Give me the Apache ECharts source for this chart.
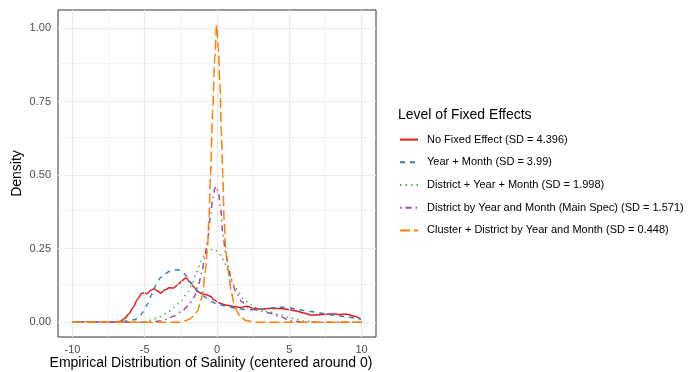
<!DOCTYPE html>
<html>
<head>
<meta charset="utf-8">
<script src="https://cdn.jsdelivr.net/npm/echarts@6/dist/echarts.min.js"></script>
<style>
html,body{margin:0;padding:0;background:#fff;}
#chart{width:696px;height:372px;}
</style>
</head>
<body>
<div id="chart"></div>
<script>
// ---- data ----
var seriesNames = [
  'No Fixed Effect (SD = 4.396)',
  'Year + Month (SD = 3.99)',
  'District + Year + Month (SD = 1.998)',
  'District by Year and Month (Main Spec) (SD = 1.571)',
  'Cluster + District by Year and Month (SD = 0.448)'
];
var noFeX = [-10,-7,-6.7,-6.4,-6.1,-5.8,-5.5,-5.2,-5.0,-4.85,-4.6,-4.35,-4.1,-3.9,-3.6,-3.3,-3.0,-2.7,-2.4,-2.15,-1.9,-1.6,-1.35,-1.1,-0.8,-0.45,-0.2,0.2,0.6,0.95,1.3,1.65,2.0,2.2,2.5,3.0,3.5,4.0,4.4,4.9,5.5,6.0,6.5,7.0,7.5,8.0,8.5,9.0,9.5,10];
var noFeY = [0,0,0.002,0.012,0.028,0.05,0.078,0.098,0.1,0.096,0.108,0.114,0.105,0.099,0.11,0.117,0.116,0.128,0.142,0.151,0.138,0.12,0.104,0.098,0.094,0.088,0.075,0.064,0.058,0.055,0.052,0.05,0.054,0.052,0.047,0.044,0.046,0.046,0.046,0.043,0.038,0.031,0.024,0.025,0.027,0.028,0.026,0.027,0.02,0.008];
var ymX = [-10,-7,-6.5,-6.2,-6.0,-5.7,-5.4,-5.1,-4.8,-4.5,-4.2,-3.9,-3.6,-3.3,-3.0,-2.7,-2.4,-2.1,-1.8,-1.5,-1.2,-0.9,-0.6,-0.3,0,0.4,0.9,1.4,2.0,2.5,3.0,3.5,4.0,4.5,5.0,5.5,6.0,6.5,7.0,7.5,8.0,8.5,9.0,9.5,10];
var ymY = [0,0,0.002,0.005,0.006,0.008,0.017,0.035,0.062,0.095,0.128,0.152,0.165,0.172,0.176,0.178,0.172,0.156,0.134,0.113,0.1,0.088,0.076,0.068,0.062,0.057,0.051,0.047,0.043,0.042,0.043,0.046,0.05,0.051,0.049,0.044,0.04,0.036,0.032,0.028,0.024,0.021,0.017,0.014,0.009];
var dymX = [-10,-5.5,-5.0,-4.5,-4.0,-3.5,-3.0,-2.5,-2.0,-1.7,-1.4,-1.1,-0.8,-0.5,-0.3,-0.1,0.1,0.3,0.5,0.7,0.9,1.2,1.5,1.85,2.3,2.8,3.5,4.4,5.0,5.5,6.0,6.5,7,10];
var dymY = [0,0,0.003,0.008,0.017,0.03,0.05,0.072,0.104,0.135,0.172,0.208,0.235,0.245,0.248,0.244,0.238,0.226,0.205,0.18,0.155,0.125,0.1,0.078,0.06,0.048,0.036,0.025,0.016,0.009,0.004,0.002,0,0];
var mainX = [-10,-4.5,-4.0,-3.5,-3.0,-2.5,-2.0,-1.6,-1.3,-1.05,-0.85,-0.65,-0.45,-0.3,-0.15,-0.05,0.1,0.25,0.4,0.6,0.8,1.0,1.3,1.7,2.2,3.0,3.7,4.4,5.0,5.5,6.0,10];
var mainY = [0,0,0.004,0.01,0.02,0.035,0.055,0.085,0.125,0.168,0.22,0.28,0.36,0.42,0.455,0.462,0.44,0.385,0.3,0.235,0.185,0.14,0.105,0.07,0.048,0.038,0.03,0.019,0.006,0.002,0,0];
var clusterX = [-10,-2.6,-2.2,-1.9,-1.6,-1.35,-1.15,-1.0,-0.8,-0.65,-0.55,-0.45,-0.3,-0.15,-0.03,0.1,0.2,0.3,0.4,0.5,0.6,0.7,0.82,1.0,1.16,1.4,1.63,2.0,2.3,2.7,10];
var clusterY = [0,0,0.005,0.011,0.021,0.038,0.066,0.095,0.175,0.26,0.36,0.5,0.72,0.9,1.011,0.93,0.81,0.65,0.5,0.34,0.255,0.205,0.16,0.1,0.066,0.035,0.016,0.006,0.003,0,0];
var xMajor = [-10,-5,0,5,10];
var xMinor = [-7.5,-2.5,2.5,7.5];
var yMajor = [0,0.25,0.5,0.75,1.0];
var yMinor = [0.125,0.375,0.625,0.875];

// ---- build ----
function pairs(xs, ys){ return xs.map(function(x,i){ return [x, ys[i]]; }); }
var colors = ['#E41A1C','#377EB8','#4DAF4A','#984EA3','#FF7F00'];
var dashes = ['solid',[5,5],[1.5,4],[1.5,4,6,4],[10,4]];
var dataSets = [pairs(noFeX,noFeY), pairs(ymX,ymY), pairs(dymX,dymY), pairs(mainX,mainY), pairs(clusterX,clusterY)];

var gridLines = [];
xMajor.forEach(function(v){ gridLines.push({xAxis:v, lineStyle:{color:'#EBEBEB', width:1.2, type:'solid'}}); });
xMinor.forEach(function(v){ gridLines.push({xAxis:v, lineStyle:{color:'#EBEBEB', width:0.6, type:'solid'}}); });
yMajor.forEach(function(v){ gridLines.push({yAxis:v, lineStyle:{color:'#EBEBEB', width:1.2, type:'solid'}}); });
yMinor.forEach(function(v){ gridLines.push({yAxis:v, lineStyle:{color:'#EBEBEB', width:0.6, type:'solid'}}); });

var series = [{
  type:'line', name:'__grid', data:[[0,0]], symbol:'none', silent:true, z:1,
  lineStyle:{opacity:0},
  markLine:{ silent:true, symbol:['none','none'], label:{show:false}, animation:false, data: gridLines }
}];
dataSets.forEach(function(d,i){
  series.push({
    type:'line', name: seriesNames[i], data:d, symbol:'none', showSymbol:false,
    smooth:0.3, smoothMonotone:'x', z: 2+i, clip:true,
    lineStyle:{color:colors[i], width:1.5, type:dashes[i]},
    itemStyle:{color:colors[i]}
  });
});

var font = 'Liberation Sans, Arial, sans-serif';
var chart = echarts.init(document.getElementById('chart'), null, {renderer:'canvas'});
chart.setOption({
  animation:false,
  backgroundColor:'#ffffff',
  textStyle:{fontFamily:font},
  title:{ text:'Level of Fixed Effects', left:393, top:103,
    textStyle:{fontFamily:font, fontSize:14, fontWeight:'normal', color:'#000'} },
  legend:{ orient:'vertical', left:394, top:129, itemWidth:18, itemHeight:14, itemGap:11.5,
    data: seriesNames,
    itemStyle:{color:'rgba(0,0,0,0)', borderWidth:0, opacity:0},
    textStyle:{fontFamily:font, fontSize:11, color:'#000', padding:[0,0,0,4]} },
  grid:{ left:58, top:10, width:318, height:327, show:true, borderColor:'#333333', borderWidth:1, backgroundColor:'#fff', containLabel:false, outerBoundsMode:'none' },
  xAxis:{ type:'value', min:-11, max:11,
    axisLine:{show:false},
    axisTick:{show:true, length:4, lineStyle:{color:'#333333'}, customValues: xMajor},
    axisLabel:{show:true, color:'#4D4D4D', fontSize:11, margin:7, customValues: xMajor, fontFamily:font},
    splitLine:{show:false},
    name:'Empirical Distribution of Salinity (centered around 0)', nameLocation:'middle', nameGap:19,
    nameMoveOverlap:false,
    nameTextStyle:{fontFamily:font, fontSize:14, color:'#000', padding:[0,12,0,0]} },
  yAxis:{ type:'value', min:-0.0505, max:1.0615,
    axisLine:{show:false},
    axisTick:{show:true, length:4, lineStyle:{color:'#333333'}, customValues: yMajor},
    axisLabel:{show:true, color:'#4D4D4D', fontSize:11, margin:7, customValues: yMajor, fontFamily:font,
      formatter:function(v){ return v.toFixed(2); }},
    splitLine:{show:false},
    name:'Density', nameLocation:'middle', nameGap:34, nameRotate:90, nameMoveOverlap:false,
    nameTextStyle:{fontFamily:font, fontSize:14, color:'#000'} },
  series: series
});
</script>
</body>
</html>
